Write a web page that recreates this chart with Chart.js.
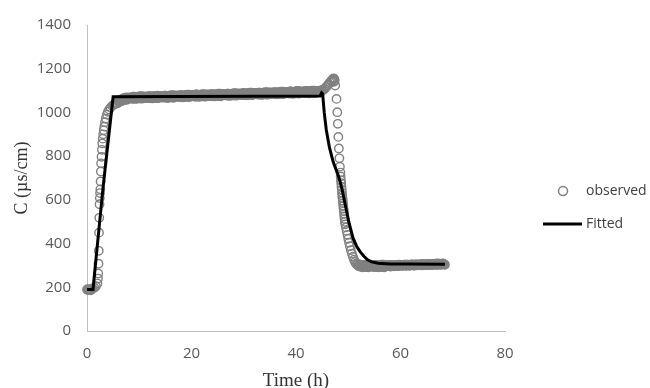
<!DOCTYPE html>
<html>
<head>
<meta charset="utf-8">
<script src="https://cdn.jsdelivr.net/npm/chart.js@4"></script>
<style>
  body { margin: 0; background: #fff; }
  #wrap { width: 650px; height: 388px; }
</style>
</head>
<body>
<div id="wrap"><canvas id="chart" width="650" height="388"></canvas></div>
<script>
// Observed conductivity, [time (h), C (µs/cm)]
const obsStart = [
  [0, 190], [0.15, 187], [0.3, 191], [0.45, 188], [0.6, 190], [0.75, 186],
  [0.9, 192], [1.1, 195], [1.4, 198], [1.7, 205]
];
const obsRise = [
  [2.0, 217], [2.1, 240], [2.15, 263], [2.2, 308], [2.25, 367], [2.3, 450],
  [2.35, 518], [2.4, 580], [2.45, 608], [2.5, 631], [2.55, 648], [2.6, 684],
  [2.65, 730], [2.7, 767], [2.78, 797], [2.85, 829], [2.92, 858], [3.0, 880],
  [3.1, 900], [3.2, 918], [3.3, 935], [3.45, 955], [3.6, 972], [3.8, 990],
  [4.0, 1003], [4.25, 1013], [4.5, 1022], [4.8, 1030], [5.1, 1035], [5.3, 1038]
];
const obsPlateau = [
  [5.5, 1043], [5.75, 1041], [6, 1055], [6.25, 1051], [6.5, 1050], [6.75, 1062],
  [7, 1061], [7.25, 1057], [7.5, 1069], [7.75, 1061], [8, 1067], [8.25, 1065],
  [8.5, 1069], [8.75, 1062], [9, 1072], [9.25, 1065], [9.5, 1062], [9.75, 1072],
  [10, 1069], [10.25, 1063], [10.5, 1074], [10.75, 1066], [11, 1071], [11.25, 1068],
  [11.5, 1072], [11.75, 1065], [12, 1075], [12.25, 1068], [12.5, 1064], [12.75, 1074],
  [13, 1071], [13.25, 1066], [13.5, 1077], [13.75, 1068], [14, 1073], [14.25, 1070],
  [14.5, 1075], [14.75, 1068], [15, 1077], [15.25, 1070], [15.5, 1066], [15.75, 1077],
  [16, 1074], [16.25, 1068], [16.5, 1079], [16.75, 1070], [17, 1076], [17.25, 1073],
  [17.5, 1077], [17.75, 1070], [18, 1079], [18.25, 1072], [18.5, 1069], [18.75, 1079],
  [19, 1076], [19.25, 1070], [19.5, 1081], [19.75, 1073], [20, 1078], [20.25, 1075],
  [20.5, 1079], [20.75, 1072], [21, 1082], [21.25, 1075], [21.5, 1071], [21.75, 1081],
  [22, 1078], [22.25, 1073], [22.5, 1084], [22.75, 1075], [23, 1080], [23.25, 1077],
  [23.5, 1082], [23.75, 1075], [24, 1084], [24.25, 1077], [24.5, 1073], [24.75, 1084],
  [25, 1081], [25.25, 1075], [25.5, 1086], [25.75, 1077], [26, 1083], [26.25, 1080],
  [26.5, 1084], [26.75, 1077], [27, 1086], [27.25, 1080], [27.5, 1076], [27.75, 1086],
  [28, 1083], [28.25, 1077], [28.5, 1088], [28.75, 1080], [29, 1085], [29.25, 1082],
  [29.5, 1086], [29.75, 1079], [30, 1089], [30.25, 1082], [30.5, 1078], [30.75, 1088],
  [31, 1085], [31.25, 1080], [31.5, 1091], [31.75, 1082], [32, 1087], [32.25, 1084],
  [32.5, 1089], [32.75, 1082], [33, 1091], [33.25, 1084], [33.5, 1080], [33.75, 1091],
  [34, 1088], [34.25, 1082], [34.5, 1093], [34.75, 1084], [35, 1090], [35.25, 1087],
  [35.5, 1091], [35.75, 1084], [36, 1093], [36.25, 1087], [36.5, 1083], [36.75, 1093],
  [37, 1090], [37.25, 1084], [37.5, 1095], [37.75, 1087], [38, 1092], [38.25, 1089],
  [38.5, 1093], [38.75, 1086], [39, 1096], [39.25, 1089], [39.5, 1085], [39.75, 1095],
  [40, 1092], [40.25, 1087], [40.5, 1098], [40.75, 1089], [41, 1094], [41.25, 1091],
  [41.5, 1096], [41.75, 1089], [42, 1098], [42.25, 1091], [42.5, 1087], [42.75, 1098],
  [43, 1095], [43.25, 1089], [43.5, 1100], [43.75, 1091], [44, 1097], [44.25, 1094],
  [44.5, 1098], [44.75, 1092], [45, 1102]
];
// readings taken between the ones above
const obsPlateauMid = [
  [5.625, 1041], [5.875, 1053], [6.125, 1047], [6.375, 1058], [6.625, 1057], [6.875, 1055],
  [7.125, 1067], [7.375, 1061], [7.625, 1058], [7.875, 1067], [8.125, 1069], [8.375, 1063],
  [8.625, 1064], [8.875, 1072], [9.125, 1062], [9.375, 1070], [9.625, 1068], [9.875, 1064],
  [10.125, 1074], [10.375, 1067], [10.625, 1063], [10.875, 1071], [11.125, 1073], [11.375, 1066],
  [11.625, 1067], [11.875, 1075], [12.125, 1065], [12.375, 1073], [12.625, 1070], [12.875, 1066],
  [13.125, 1076], [13.375, 1070], [13.625, 1065], [13.875, 1073], [14.125, 1075], [14.375, 1068],
  [14.625, 1070], [14.875, 1077], [15.125, 1067], [15.375, 1075], [15.625, 1072], [15.875, 1069],
  [16.125, 1079], [16.375, 1072], [16.625, 1067], [16.875, 1075], [17.125, 1078], [17.375, 1071],
  [17.625, 1072], [17.875, 1079], [18.125, 1069], [18.375, 1078], [18.625, 1075], [18.875, 1071],
  [19.125, 1081], [19.375, 1074], [19.625, 1070], [19.875, 1078], [20.125, 1080], [20.375, 1073],
  [20.625, 1074], [20.875, 1082], [21.125, 1072], [21.375, 1080], [21.625, 1077], [21.875, 1073],
  [22.125, 1084], [22.375, 1077], [22.625, 1072], [22.875, 1080], [23.125, 1082], [23.375, 1075],
  [23.625, 1077], [23.875, 1084], [24.125, 1074], [24.375, 1082], [24.625, 1079], [24.875, 1076],
  [25.125, 1086], [25.375, 1079], [25.625, 1074], [25.875, 1082], [26.125, 1085], [26.375, 1078],
  [26.625, 1079], [26.875, 1086], [27.125, 1076], [27.375, 1085], [27.625, 1082], [27.875, 1078],
  [28.125, 1088], [28.375, 1081], [28.625, 1077], [28.875, 1085], [29.125, 1087], [29.375, 1080],
  [29.625, 1081], [29.875, 1089], [30.125, 1079], [30.375, 1087], [30.625, 1084], [30.875, 1080],
  [31.125, 1091], [31.375, 1084], [31.625, 1079], [31.875, 1087], [32.125, 1089], [32.375, 1083],
  [32.625, 1084], [32.875, 1091], [33.125, 1081], [33.375, 1089], [33.625, 1086], [33.875, 1083],
  [34.125, 1093], [34.375, 1086], [34.625, 1081], [34.875, 1089], [35.125, 1092], [35.375, 1085],
  [35.625, 1086], [35.875, 1093], [36.125, 1083], [36.375, 1092], [36.625, 1089], [36.875, 1085],
  [37.125, 1095], [37.375, 1088], [37.625, 1084], [37.875, 1092], [38.125, 1094], [38.375, 1087],
  [38.625, 1088], [38.875, 1096], [39.125, 1086], [39.375, 1094], [39.625, 1091], [39.875, 1087],
  [40.125, 1098], [40.375, 1091], [40.625, 1086], [40.875, 1094], [41.125, 1096], [41.375, 1089],
  [41.625, 1091], [41.875, 1098], [42.125, 1088], [42.375, 1096], [42.625, 1093], [42.875, 1090],
  [43.125, 1100], [43.375, 1093], [43.625, 1088], [43.875, 1096], [44.125, 1099], [44.375, 1092],
  [44.625, 1094], [44.875, 1102]
];
const obsPeak = [
  [45.25, 1104], [45.5, 1108], [45.75, 1116], [46, 1122], [46.25, 1130], [46.5, 1137],
  [46.75, 1145], [46.8, 1140], [47, 1151], [47.1, 1148], [47.2, 1156], [47.25, 1140],
  [47.35, 1152], [47.4, 1145]
];
const obsFall = [
  [47.5, 1123], [47.75, 1062], [47.9, 1001], [48.0, 948], [48.1, 888], [48.2, 835],
  [48.3, 790], [48.4, 752], [48.5, 725], [48.55, 707], [48.6, 690], [48.65, 676],
  [48.7, 660], [48.75, 646], [48.8, 632], [48.85, 620], [48.9, 608], [48.95, 596],
  [49.0, 584], [49.05, 572], [49.1, 560], [49.15, 548], [49.2, 536], [49.25, 524],
  [49.3, 512], [49.35, 500], [49.45, 488], [49.55, 474], [49.7, 458], [49.85, 440],
  [50.0, 422], [50.15, 404], [50.3, 388], [50.5, 370], [50.7, 354], [50.9, 340],
  [51.1, 326], [51.3, 316], [51.5, 308]
];
const obsTail = [
  [51.75, 305], [52, 296], [52.25, 304], [52.5, 296], [52.75, 291], [53, 301],
  [53.25, 298], [53.5, 292], [53.75, 303], [54, 294], [54.25, 299], [54.5, 296],
  [54.75, 300], [55, 293], [55.25, 302], [55.5, 295], [55.75, 291], [56, 301],
  [56.25, 298], [56.5, 292], [56.75, 303], [57, 294], [57.25, 300], [57.5, 297],
  [57.75, 300], [58, 296], [58.25, 302], [58.5, 298], [58.75, 296], [59, 301],
  [59.25, 300], [59.5, 297], [59.75, 303], [60, 298], [60.25, 301], [60.5, 299],
  [60.75, 303], [61, 299], [61.25, 304], [61.5, 300], [61.75, 298], [62, 304],
  [62.25, 303], [62.5, 299], [62.75, 305], [63, 300], [63.25, 303], [63.5, 302],
  [63.75, 305], [64, 301], [64.25, 306], [64.5, 302], [64.75, 301], [65, 306],
  [65.25, 305], [65.5, 301], [65.75, 307], [66, 302], [66.25, 306], [66.5, 304],
  [66.75, 307], [67, 303], [67.25, 308], [67.5, 304], [67.75, 303], [68, 308],
  [68.25, 307], [68.5, 303]
];
const obsTailMid = [
  [51.875, 299], [52.125, 305], [52.375, 294], [52.625, 301], [52.875, 297], [53.125, 293],
  [53.375, 303], [53.625, 296], [53.875, 291], [54.125, 299], [54.375, 301], [54.625, 294],
  [54.875, 295], [55.125, 302], [55.375, 292], [55.625, 300], [55.875, 297], [56.125, 293],
  [56.375, 303], [56.625, 296], [56.875, 291], [57.125, 299], [57.375, 301], [57.625, 297],
  [57.875, 301], [58.125, 295], [58.375, 301], [58.625, 299], [58.875, 297], [59.125, 302],
  [59.375, 298], [59.625, 297], [59.875, 301], [60.125, 302], [60.375, 298], [60.625, 300],
  [60.875, 304], [61.125, 298], [61.375, 303], [61.625, 301], [61.875, 300], [62.125, 305],
  [62.375, 301], [62.625, 299], [62.875, 303], [63.125, 305], [63.375, 301], [63.625, 302],
  [63.875, 306], [64.125, 300], [64.375, 306], [64.625, 304], [64.875, 302], [65.125, 307],
  [65.375, 303], [65.625, 302], [65.875, 306], [66.125, 307], [66.375, 303], [66.625, 304],
  [66.875, 309], [67.125, 303], [67.375, 308], [67.625, 306], [67.875, 304], [68.125, 309],
  [68.375, 305]
];

// Fitted model curve
const fitted = [
  [0, 190], [1.15, 190], [3, 640], [5, 1072], [44.6, 1075], [44.9, 1090],
  [45.1, 1085], [45.4, 1000], [45.8, 920], [46.4, 840], [47.1, 775], [47.6, 742],
  [48.0, 718], [48.3, 695], [48.8, 650], [49.4, 580], [50.1, 500], [50.9, 426],
  [51.6, 388], [52.3, 362], [53, 342], [53.7, 326], [54.5, 316], [55.7, 310],
  [58, 307], [62, 306], [68.5, 305]
];

const xTicks = [0, 20, 40, 60, 80];
const yTicks = [0, 200, 400, 600, 800, 1000, 1200, 1400];

const toPoints = rows => rows.map(([x, y]) => ({ x, y }));

const observed = [].concat(obsStart, obsRise, obsPlateau, obsPlateauMid, obsPeak, obsFall, obsTail, obsTailMid);

// Legend drawn beside the plot, like the spreadsheet original
const sideLegend = {
  id: 'sideLegend',
  afterDraw(chart) {
    const ctx = chart.ctx;
    ctx.save();
    ctx.strokeStyle = '#808080';
    ctx.lineWidth = 1.5;
    ctx.beginPath();
    ctx.arc(563, 191, 4.5, 0, Math.PI * 2);
    ctx.stroke();

    ctx.strokeStyle = '#000';
    ctx.lineWidth = 3;
    ctx.beginPath();
    ctx.moveTo(543, 224);
    ctx.lineTo(582, 224);
    ctx.stroke();

    ctx.fillStyle = '#404040';
    ctx.font = '14px "Open Sans"';
    ctx.textBaseline = 'middle';
    ctx.fillText('observed', 586, 191);
    ctx.fillText('Fitted', 586, 224);
    ctx.restore();
  }
};

new Chart(document.getElementById('chart'), {
  type: 'scatter',
  data: {
    datasets: [{
      label: 'Fitted',
      data: toPoints(fitted),
      showLine: true,
      borderColor: '#000',
      borderWidth: 3,
      pointRadius: 0,
      tension: 0,
      order: 0,
      clip: false
    }, {
      label: 'observed',
      data: toPoints(observed),
      showLine: false,
      pointStyle: 'circle',
      pointRadius: 4.2,
      pointBorderWidth: 1.4,
      pointBorderColor: '#808080',
      pointBackgroundColor: 'rgba(0,0,0,0)',
      order: 1,
      clip: false
    }]
  },
  options: {
    responsive: false,
    animation: false,
    layout: { padding: { left: 0, right: 145, top: 22, bottom: 0 } },
    plugins: {
      legend: { display: false },
      tooltip: { enabled: false }
    },
    scales: {
      x: {
        type: 'linear',
        min: 0,
        max: 80,
        afterBuildTicks: scale => { scale.ticks = xTicks.map(v => ({ value: v })); },
        afterFit: scale => { scale.height = 57; },
        grid: { display: false, drawTicks: false },
        border: { display: true, color: '#bfbfbf', width: 1 },
        ticks: {
          color: '#595959',
          font: { family: 'Open Sans', size: 15 },
          padding: 14,
          callback: v => String(v)
        },
        title: {
          display: true,
          text: 'Time (h)',
          color: '#333',
          font: { family: 'Liberation Serif', size: 19 },
          padding: { top: 0, bottom: -4 }
        }
      },
      y: {
        type: 'linear',
        min: 0,
        max: 1400,
        afterBuildTicks: scale => { scale.ticks = yTicks.map(v => ({ value: v })); },
        afterFit: scale => { scale.width = 87; },
        grid: { display: false, drawTicks: false },
        border: { display: true, color: '#bfbfbf', width: 1 },
        ticks: {
          color: '#595959',
          font: { family: 'Open Sans', size: 15 },
          padding: 16,
          callback: v => String(v)
        },
        title: {
          display: true,
          text: 'C (µs/cm)',
          color: '#333',
          font: { family: 'Liberation Serif', size: 18 },
          padding: { top: 11, bottom: 0 }
        }
      }
    }
  },
  plugins: [sideLegend]
});
</script>
</body>
</html>
